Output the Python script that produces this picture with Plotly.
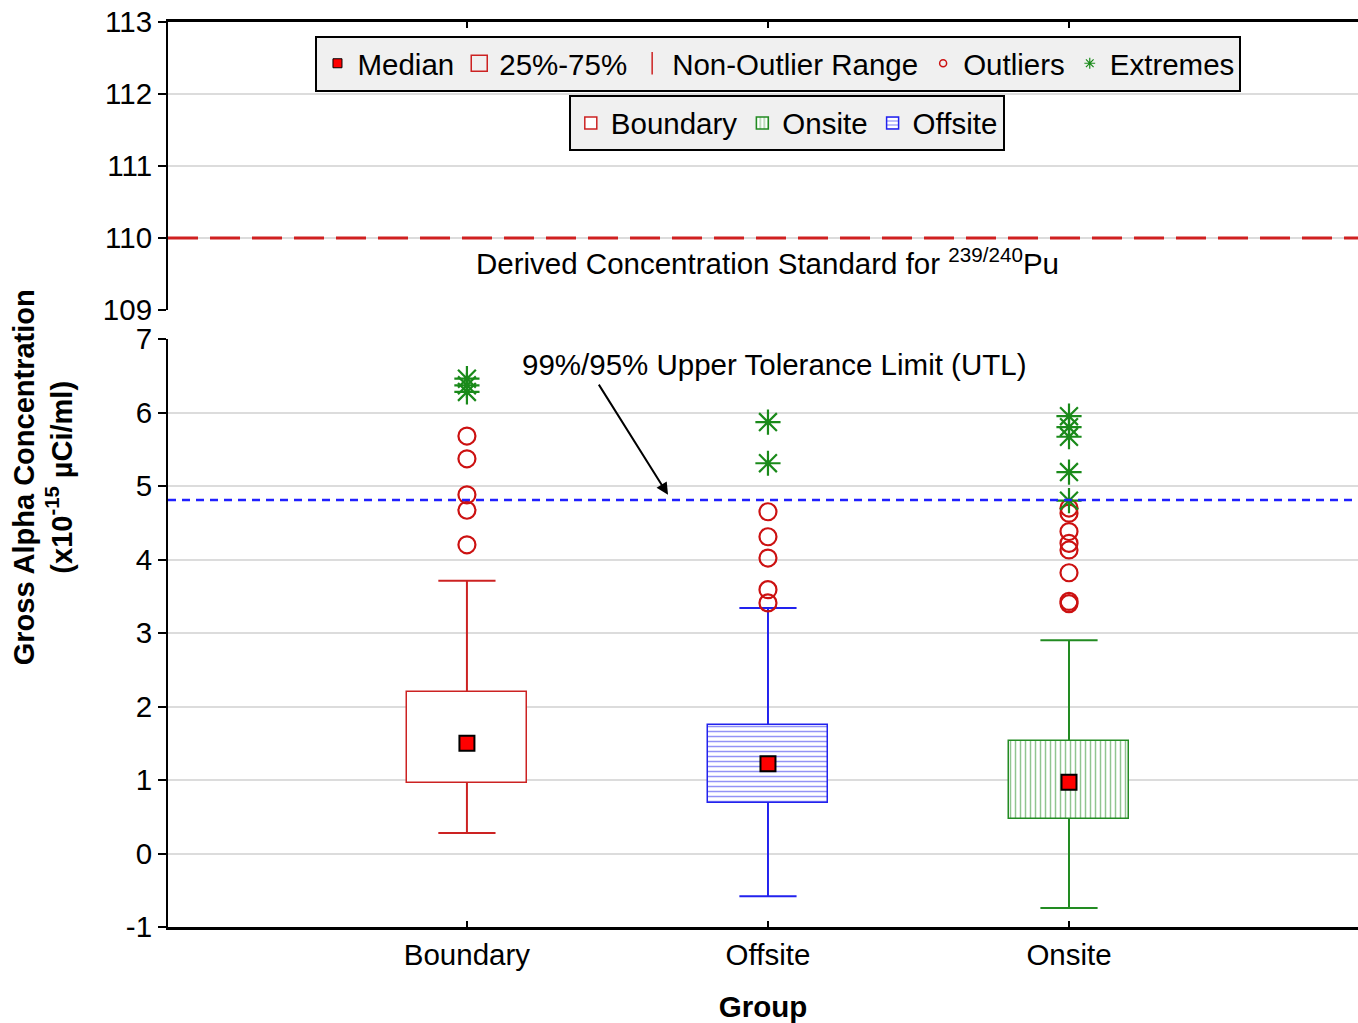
import plotly.graph_objects as go

# ---------------- data ----------------
categories = ["Boundary", "Offsite", "Onsite"]
q1 = [0.96, 0.69, 0.47]
median = [1.50, 1.22, 0.97]
q3 = [2.20, 1.75, 1.53]
whisker_low = [0.28, -0.58, -0.74]
whisker_high = [3.71, 3.34, 2.90]
outliers = [
    [4.20, 4.67, 4.88, 5.37, 5.68],
    [3.41, 3.59, 4.02, 4.31, 4.65],
    [3.40, 3.43, 3.82, 4.13, 4.22, 4.38, 4.63, 4.70],
]
extremes = [
    [6.28, 6.37, 6.46],
    [5.31, 5.87],
    [4.80, 5.19, 5.67, 5.80, 5.95],
]
utl_value = 4.81
dcs_value = 110.0
top_ticks = [109, 110, 111, 112, 113]
bottom_ticks = [-1, 0, 1, 2, 3, 4, 5, 6, 7]

# ---------------- styles ----------------
colors = {"Boundary": "#cc2222", "Offsite": "#2222ee", "Onsite": "#228b22"}
patterns = {"Boundary": "", "Offsite": "-", "Onsite": "|"}
ranks = {"Boundary": 1, "Onsite": 2, "Offsite": 3}
FONT = "Liberation Sans, Arial, sans-serif"
FS = 29.5
box_w = 0.40
cap_w = 0.19

fig = go.Figure()
xs = list(range(len(categories)))

for i, cat in enumerate(categories):
    c = colors[cat]
    # box (25%-75%)
    fig.add_trace(go.Bar(
        x=[xs[i]], y=[q3[i] - q1[i]], base=[q1[i]], width=box_w,
        marker=dict(color="white", line=dict(color=c, width=1.5),
                    pattern=dict(shape=patterns[cat], fgcolor=c, bgcolor="white",
                                 size=5, solidity=0.3)),
        name=cat, legend="legend2", legendrank=ranks[cat],
        xaxis="x", yaxis="y", hoverinfo="skip"))
    # whiskers
    fig.add_trace(go.Scatter(
        x=[xs[i], xs[i], None, xs[i], xs[i], None,
           xs[i] - cap_w / 2, xs[i] + cap_w / 2, None,
           xs[i] - cap_w / 2, xs[i] + cap_w / 2],
        y=[whisker_low[i], q1[i], None, q3[i], whisker_high[i], None,
           whisker_low[i], whisker_low[i], None, whisker_high[i], whisker_high[i]],
        mode="lines", line=dict(color=c, width=2), showlegend=False,
        xaxis="x", yaxis="y", hoverinfo="skip"))
    # outliers
    fig.add_trace(go.Scatter(
        x=[xs[i]] * len(outliers[i]), y=outliers[i], mode="markers",
        marker=dict(symbol="circle-open", size=17, color="#cc1111", line=dict(width=2.2)),
        showlegend=False, xaxis="x", yaxis="y"))
    # extremes
    fig.add_trace(go.Scatter(
        x=[xs[i]] * len(extremes[i]), y=extremes[i], mode="markers",
        marker=dict(symbol="asterisk-open", size=21, color="#1a8a1a", line=dict(width=2.2)),
        showlegend=False, xaxis="x", yaxis="y"))
    # median
    fig.add_trace(go.Scatter(
        x=[xs[i]], y=[median[i]], mode="markers",
        marker=dict(symbol="square", size=15, color="#ff0000", line=dict(color="black", width=2)),
        showlegend=False, xaxis="x", yaxis="y"))

# legend-only entries (legend 1)
fig.add_trace(go.Scatter(x=[None], y=[None], mode="markers", name="Median",
                         marker=dict(symbol="square", size=9, color="#ff0000",
                                     line=dict(color="black", width=1)), legend="legend"))
fig.add_trace(go.Scatter(x=[None], y=[None], mode="markers", name="25%-75%",
                         marker=dict(symbol="square-open", size=16, color="#cc2222",
                                     line=dict(width=1.5)), legend="legend"))
fig.add_trace(go.Scatter(x=[None], y=[None], mode="markers", name="Non-Outlier Range",
                         marker=dict(symbol="line-ns-open", size=18, color="#cc2222",
                                     line=dict(width=1.5)), legend="legend"))
fig.add_trace(go.Scatter(x=[None], y=[None], mode="markers", name="Outliers",
                         marker=dict(symbol="circle-open", size=7, color="#cc1111",
                                     line=dict(width=1.5)), legend="legend"))
fig.add_trace(go.Scatter(x=[None], y=[None], mode="markers", name="Extremes",
                         marker=dict(symbol="asterisk-open", size=9, color="#1a8a1a",
                                     line=dict(width=1.2)), legend="legend"))

# reference lines
fig.add_shape(type="line", xref="x2 domain", yref="y2", x0=0, x1=1,
              y0=dcs_value, y1=dcs_value, line=dict(color="#d02020", width=3, dash="30px,12px"))
fig.add_shape(type="line", xref="x domain", yref="y", x0=0, x1=1,
              y0=utl_value, y1=utl_value, line=dict(color="#2020ff", width=2.5, dash="8px,6px"))

# annotations
fig.add_annotation(x=1.0, y=109.67, xref="x2", yref="y2", showarrow=False,
                   text="Derived Concentration Standard for <sup>239/240</sup>Pu",
                   font=dict(size=FS, color="black", family=FONT))
fig.add_annotation(x=1.02, y=6.65, xref="x", yref="y", showarrow=False,
                   text="99%/95% Upper Tolerance Limit (UTL)",
                   font=dict(size=FS, color="black", family=FONT))
fig.add_annotation(x=0.668, y=4.88, ax=0.435, ay=6.40, xref="x", yref="y",
                   axref="x", ayref="y", text="", showarrow=True,
                   arrowhead=2, arrowsize=1.2, arrowwidth=2, arrowcolor="black")
fig.add_annotation(x=-0.105, y=0.497, xref="paper", yref="paper", showarrow=False,
                   xanchor="center", yanchor="middle", textangle=-90,
                   text="<b>Gross Alpha Concentration<br>(x10<sup>-15</sup> µCi/ml)</b>",
                   font=dict(size=29, color="black", family=FONT))

axis_common = dict(showgrid=True, gridcolor="#dcdcdc", gridwidth=2, zeroline=False,
                   showline=True, linecolor="black", linewidth=2,
                   ticks="outside", ticklen=8, tickwidth=2, tickcolor="black",
                   tickfont=dict(size=FS, color="black", family=FONT))

fig.update_layout(
    width=1358, height=1023,
    margin=dict(l=168, r=0, t=22, b=96),
    plot_bgcolor="white", paper_bgcolor="white",
    barmode="overlay", bargap=0,
    font=dict(family=FONT, color="black"),
    xaxis=dict(domain=[0, 1], anchor="y", range=[-0.993, 2.96],
               tickvals=xs, ticktext=categories, showgrid=False, zeroline=False,
               showline=True, linecolor="black", linewidth=3,
               ticks="inside", ticklen=6, tickwidth=2, tickcolor="black",
               tickfont=dict(size=FS, color="black", family=FONT),
               title=dict(text="<b>Group</b>", font=dict(size=FS, family=FONT), standoff=26)),
    yaxis=dict(domain=[0, 0.6497], range=[-1, 7], tickvals=bottom_ticks,
               ticktext=[str(v) for v in bottom_ticks], **axis_common),
    xaxis2=dict(domain=[0, 1], anchor="y2", range=[-0.993, 2.96], matches="x",
                tickvals=xs, showticklabels=False, showgrid=False, zeroline=False,
                side="top", showline=True, linecolor="black", linewidth=3,
                ticks="inside", ticklen=6, tickwidth=2, tickcolor="black"),
    yaxis2=dict(domain=[0.6818, 1], range=[109, 113], tickvals=top_ticks,
                ticktext=[str(v) for v in top_ticks], **axis_common),
    legend=dict(orientation="h", x=0.513, xanchor="center", y=0.985, yanchor="top",
                bgcolor="#f0f0f0", bordercolor="black", borderwidth=2,
                font=dict(size=FS, color="black", family=FONT),
                itemwidth=30, tracegroupgap=0),
    legend2=dict(orientation="h", x=0.52, xanchor="center", y=0.919, yanchor="top",
                 bgcolor="#f0f0f0", bordercolor="black", borderwidth=2,
                 font=dict(size=FS, color="black", family=FONT),
                 itemwidth=30, traceorder="normal"),
)

fig.write_html("out.html", config={"displayModeBar": False},
               post_script="document.body.style.margin='0px';")
